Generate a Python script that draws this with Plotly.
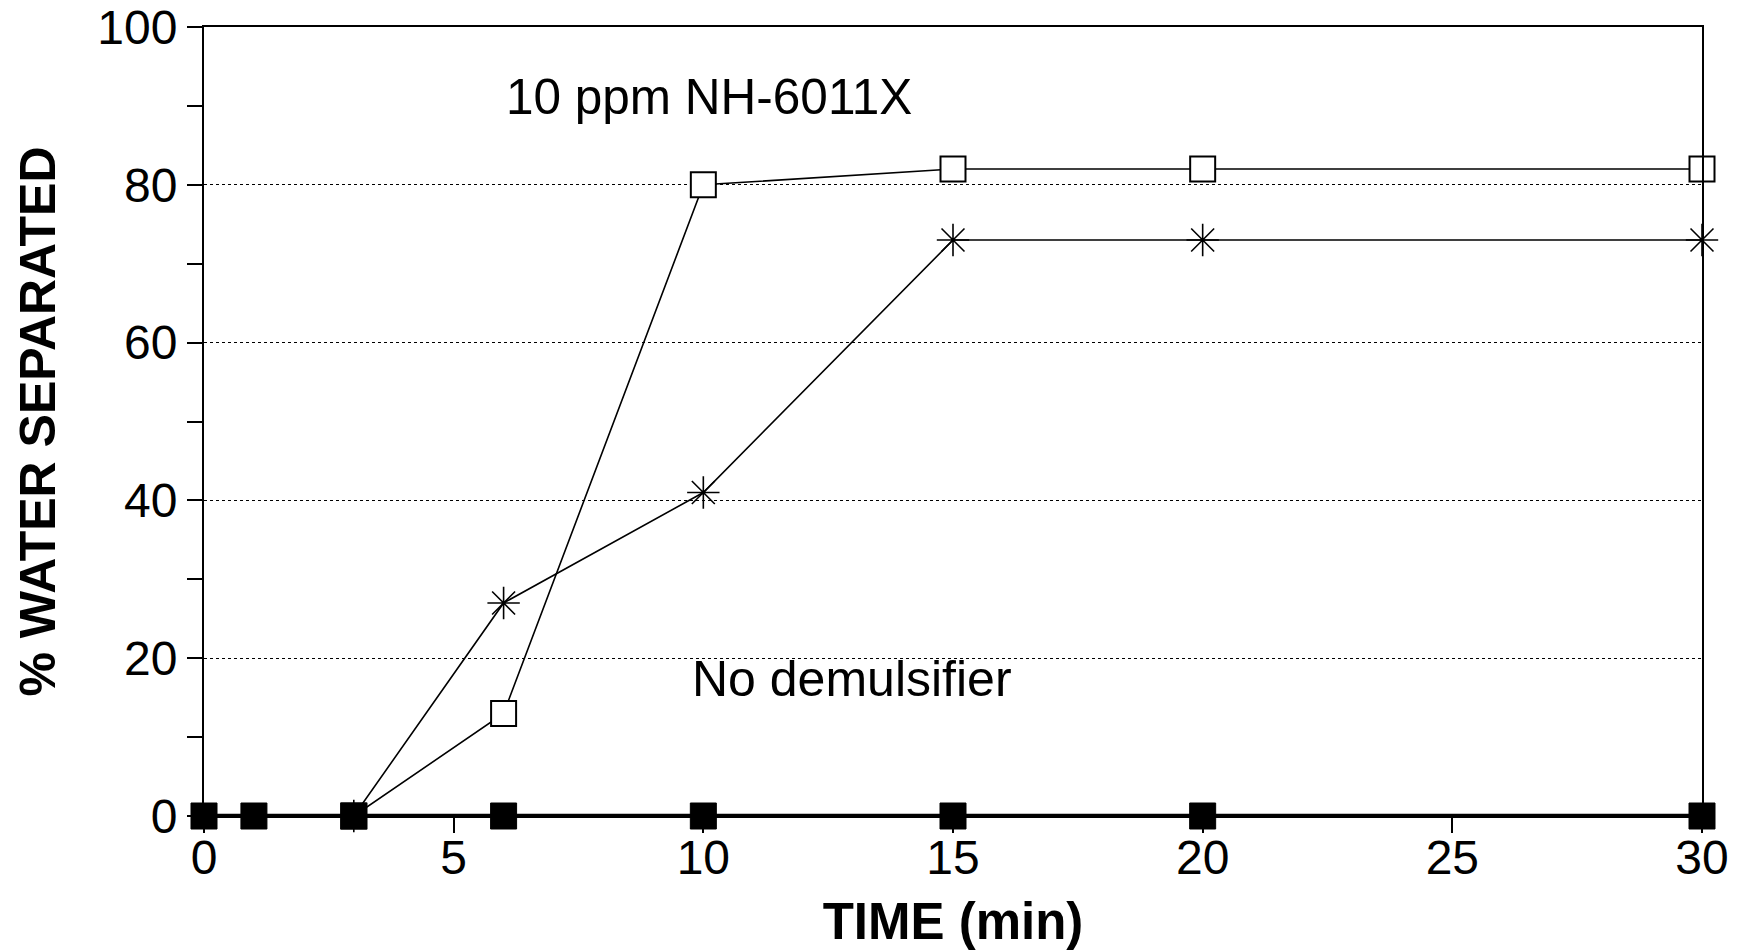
import plotly.graph_objects as go

time_pts = [0, 1, 3, 6, 10, 15, 20, 30]
nh6011x_a = [0, 0, 0, 13, 80, 82, 82, 82]      # open squares
nh6011x_b = [0, 0, 0, 27, 41, 73, 73, 73]      # asterisks
no_demuls = [0, 0, 0, 0, 0, 0, 0, 0]           # filled squares

x_ticks = [0, 5, 10, 15, 20, 25, 30]
y_ticks = [0, 20, 40, 60, 80, 100]

FONT = "Liberation Sans, Arial, Helvetica, sans-serif"

fig = go.Figure()
fig.add_trace(go.Scatter(
    x=time_pts[2:], y=nh6011x_b[2:], mode="lines+markers",
    line=dict(color="black", width=1.6),
    marker=dict(symbol="asterisk-open", size=27, color="black",
                line=dict(color="black", width=1.6)),
    cliponaxis=False, showlegend=False))
fig.add_trace(go.Scatter(
    x=time_pts[2:], y=nh6011x_a[2:], mode="lines+markers",
    line=dict(color="black", width=1.6),
    marker=dict(symbol="square", size=25, color="white",
                line=dict(color="black", width=2)),
    cliponaxis=False, showlegend=False))
fig.add_trace(go.Scatter(
    x=time_pts, y=no_demuls, mode="lines+markers",
    line=dict(color="black", width=4.5),
    marker=dict(symbol="square", size=26, color="black",
                line=dict(color="black", width=1)),
    cliponaxis=False, showlegend=False))

fig.add_annotation(x=6.0, y=91.2, text="10 ppm NH-6011X", showarrow=False,
                   xanchor="left", yanchor="middle",
                   font=dict(family=FONT, size=49.5, color="black"))
fig.add_annotation(x=9.74, y=17.4, text="No demulsifier", showarrow=False,
                   xanchor="left", yanchor="middle",
                   font=dict(family=FONT, size=50, color="black"))

fig.update_layout(
    width=1739, height=950,
    margin=dict(l=204, r=37, t=27, b=134, autoexpand=False),
    paper_bgcolor="white", plot_bgcolor="white",
    font=dict(family=FONT, color="black"),
    xaxis=dict(range=[0, 30], tickvals=x_ticks, ticktext=[str(v) for v in x_ticks],
               automargin=False, ticklabelstandoff=-17,
               ticks="outside", ticklen=15, tickwidth=1.5, tickcolor="black",
               showline=True, linecolor="black", linewidth=2, mirror=True,
               showgrid=False, zeroline=False,
               tickfont=dict(family=FONT, size=48, color="black"),
               title=dict(text="<b>TIME (min)</b>", standoff=26,
                          font=dict(family=FONT, size=51, color="black"))),
    yaxis=dict(range=[0, 100], tickvals=y_ticks, ticktext=[str(v) for v in y_ticks],
               automargin=False, ticklabeloverflow="allow",
               ticks="outside", ticklen=15, tickwidth=1.5, tickcolor="black",
               minor=dict(tickvals=[10, 30, 50, 70, 90], ticks="outside", ticklen=15,
                          tickwidth=1.5, tickcolor="black", showgrid=False),
               showline=True, linecolor="black", linewidth=2, mirror=True,
               showgrid=True, gridcolor="black", gridwidth=1.3, griddash="dot",
               zeroline=False,
               tickfont=dict(family=FONT, size=48, color="black"),
               title=dict(text="<b>% WATER SEPARATED</b>", standoff=26,
                          font=dict(family=FONT, size=50, color="black"))),
)

fig.write_html("out.html")
